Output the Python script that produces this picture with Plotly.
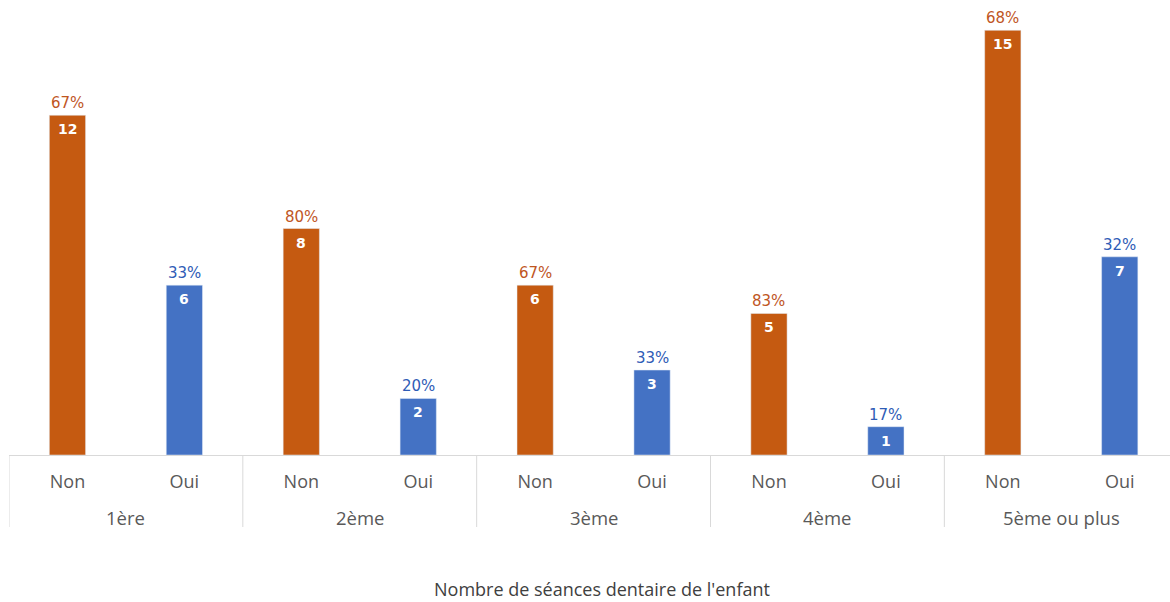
import plotly.graph_objects as go

# Nombre de séances dentaires : réponses Non / Oui
seances = ["1ère", "2ème", "3ème", "4ème", "5ème ou plus"]
reponses = ["Non", "Oui"]
non_counts = [12, 8, 6, 5, 15]
oui_counts = [6, 2, 3, 1, 7]
non_pct = ["67%", "80%", "67%", "83%", "68%"]
oui_pct = ["33%", "20%", "33%", "17%", "32%"]

ORANGE = "#C55A11"
BLUE = "#4472C4"
PCT_COLORS = {"Non": "#C0561F", "Oui": "#2F5CB6"}
LABEL_FONT = "Open Sans, Noto Sans, sans-serif"
VALUE_FONT = "DejaVu Sans, Verdana, sans-serif"
GRID = "#D9D9D9"

n_rep = len(reponses)
# slot index of each (séance, réponse) pair on the x axis
slot = {(g, r): gi * n_rep + ri for gi, g in enumerate(seances) for ri, r in enumerate(reponses)}

series = {
    "Non": (non_counts, non_pct, ORANGE),
    "Oui": (oui_counts, oui_pct, BLUE),
}

fig = go.Figure()
annotations = []
for rep, (counts, pcts, col) in series.items():
    xs = [slot[(g, rep)] for g in seances]
    fig.add_trace(go.Bar(
        x=xs, y=counts, name=rep, marker_color=col, width=0.31,
        showlegend=False, hoverinfo="skip",
    ))
    for x, v, p in zip(xs, counts, pcts):
        # count inside the top of the bar
        annotations.append(dict(
            x=x, y=v, xref="x", yref="y", text=f"<b>{v}</b>", showarrow=False,
            yanchor="middle", yshift=-14,
            font=dict(color="white", size=14, family=VALUE_FONT),
        ))
        # share of the séance just above the bar
        annotations.append(dict(
            x=x, y=v, xref="x", yref="y", text=p, showarrow=False,
            yanchor="middle", yshift=12,
            font=dict(color=PCT_COLORS[rep], size=15, family=VALUE_FONT),
        ))

# group labels and dividers below the axis
PLOT_H = 602 - 2 - 147
div_depth = 72 / PLOT_H
shapes = []
for gi, g in enumerate(seances):
    annotations.append(dict(
        x=gi * n_rep + (n_rep - 1) / 2, y=0, xref="x", yref="paper",
        text=g, showarrow=False, yanchor="middle", yshift=-62,
        font=dict(size=18.5, color="#595959", family=LABEL_FONT),
    ))
for k in range(len(seances) + 1):
    xb = k * n_rep - 0.5
    shapes.append(dict(
        type="line", xref="x", yref="paper", x0=xb, x1=xb, y0=0, y1=-div_depth,
        line=dict(color=GRID, width=1),
    ))

annotations.append(dict(
    x=0.511, y=0, xref="paper", yref="paper",
    text="Nombre de séances dentaire de l'enfant", showarrow=False,
    yanchor="middle", yshift=-134,
    font=dict(size=18, color="#404040", family=LABEL_FONT),
))

tickvals = [slot[(g, r)] for g in seances for r in reponses]
ticktext = [r for g in seances for r in reponses]

fig.update_layout(
    width=1170, height=602,
    margin=dict(l=9, r=0, t=2, b=147),
    plot_bgcolor="white", paper_bgcolor="white",
    barmode="overlay",
    annotations=annotations,
    shapes=shapes,
    xaxis=dict(
        range=[-0.5, 9.43],
        tickvals=tickvals, ticktext=ticktext,
        showline=True, linecolor=GRID, linewidth=1,
        showgrid=False, zeroline=False,
        ticks="outside", ticklen=10, tickcolor="rgba(0,0,0,0)",
        tickfont=dict(size=18, color="#595959", family=LABEL_FONT),
    ),
    yaxis=dict(range=[0, 16], visible=False, showgrid=False, zeroline=False),
)

fig.write_html("out.html")
